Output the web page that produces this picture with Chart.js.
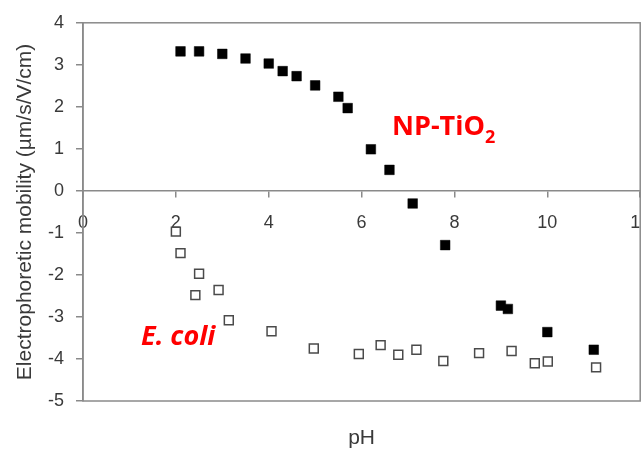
<!DOCTYPE html>
<html>
<head>
<meta charset="utf-8">
<script src="https://cdn.jsdelivr.net/npm/chart.js@4"></script>
<style>
  html, body { margin: 0; padding: 0; background: #fff; overflow: hidden; }
  #wrap { width: 641px; height: 451px; overflow: hidden; }
</style>
</head>
<body>
<div id="wrap"><canvas id="myChart" width="648" height="451"></canvas></div>
<script>
// NP-TiO2 (filled squares)
const tioPH = [2.1, 2.5, 3.0, 3.5, 4.0, 4.3, 4.6, 5.0, 5.5, 5.7, 6.2, 6.6, 7.1, 7.8, 9.0, 9.15, 10.0, 11.0];
const tioMob = [3.32, 3.32, 3.26, 3.15, 3.03, 2.85, 2.73, 2.51, 2.24, 1.97, 0.99, 0.5, -0.3, -1.29, -2.73, -2.81, -3.36, -3.78];

// E. coli (open squares)
const ecoliPH = [2.0, 2.1, 2.5, 2.42, 2.92, 3.14, 4.06, 4.97, 5.94, 6.41, 6.79, 7.18, 7.76, 8.53, 9.23, 9.73, 10.01, 11.05];
const ecoliMob = [-0.97, -1.48, -1.97, -2.48, -2.36, -3.08, -3.34, -3.75, -3.88, -3.67, -3.9, -3.78, -4.05, -3.86, -3.81, -4.1, -4.06, -4.2];

const xTicks = [0, 2, 4, 6, 8, 10, 12];
const yTicks = [-5, -4, -3, -2, -1, 0, 1, 2, 3, 4];

const toPoints = (xs, ys) => xs.map((x, i) => ({x: x, y: ys[i]}));

const axisGray = '#8a8a8a';
const textGray = '#3a3a3a';

// frame round the plot and the two red labels
const framePlugin = {
    id: 'frame',
    beforeDatasetsDraw(chart) {
        const {ctx, chartArea} = chart;
        ctx.save();
        ctx.strokeStyle = axisGray;
        ctx.lineWidth = 1.5;
        ctx.strokeRect(chartArea.left, chartArea.top, chartArea.right - chartArea.left, chartArea.bottom - chartArea.top);
        ctx.restore();
    },
    afterDraw(chart) {
        const ctx = chart.ctx;
        ctx.save();
        ctx.fillStyle = '#ff0000';
        ctx.textBaseline = 'alphabetic';
        ctx.textAlign = 'left';
        ctx.font = 'bold 27px "Open Sans"';
        ctx.fillText('NP-TiO', 392, 135);
        let w = ctx.measureText('NP-TiO').width;
        ctx.font = 'bold 18px "Open Sans"';
        ctx.fillText('2', 392 + w, 143);
        ctx.font = 'italic bold 27px "Open Sans"';
        ctx.fillText('E. coli', 141, 345);
        ctx.restore();
    }
};

let ctx = document.getElementById('myChart').getContext('2d');
window.myChart = new Chart(ctx, {
    type: 'scatter',
    data: {
        datasets: [{
            label: 'NP-TiO2',
            data: toPoints(tioPH, tioMob),
            pointStyle: 'rect',
            pointRadius: 6.8,
            backgroundColor: '#000',
            borderColor: '#000',
            borderWidth: 0.5,
        }, {
            label: 'E. coli',
            data: toPoints(ecoliPH, ecoliMob),
            pointStyle: 'rect',
            pointRadius: 6.3,
            backgroundColor: '#fff',
            borderColor: '#4a4a4a',
            borderWidth: 1.5,
        }]
    },
    options: {
        responsive: false,
        animation: false,
        events: [],
        layout: {
            padding: {left: 0, right: 2, top: 18, bottom: 0}
        },
        scales: {
            x: {
                type: 'linear',
                position: 'bottom',
                min: 0,
                max: 12,
                ticks: {display: false},
                grid: {display: false},
                border: {display: false},
                title: {
                    display: true,
                    text: 'pH',
                    color: textGray,
                    font: {family: 'Liberation Sans', size: 21},
                    padding: {top: 0, bottom: 0}
                },
                afterFit: (scale) => { scale.height = 50; }
            },
            x0: {
                type: 'linear',
                position: {y: 0},
                min: 0,
                max: 12,
                afterBuildTicks: (scale) => { scale.ticks = xTicks.map(v => ({value: v})); },
                ticks: {
                    color: textGray,
                    font: {family: 'Liberation Sans', size: 18},
                    padding: 15,
                    maxRotation: 0,
                    autoSkip: false
                },
                grid: {drawOnChartArea: false, drawTicks: true, tickLength: 6, color: axisGray, lineWidth: 1.5},
                border: {display: true, color: axisGray, width: 1.5},
                afterFit: (scale) => { scale.paddingLeft = 0; scale.paddingRight = 0; }
            },
            y: {
                type: 'linear',
                position: 'left',
                min: -5,
                max: 4,
                afterBuildTicks: (scale) => { scale.ticks = yTicks.map(v => ({value: v})); },
                ticks: {
                    color: textGray,
                    font: {family: 'Liberation Sans', size: 18},
                    padding: 12,
                    autoSkip: false
                },
                grid: {drawOnChartArea: false, drawTicks: true, tickLength: 7, color: axisGray, lineWidth: 1.5},
                border: {display: true, color: axisGray, width: 1.5},
                title: {
                    display: true,
                    text: 'Electrophoretic mobility (µm/s/V/cm)',
                    color: textGray,
                    font: {family: 'Liberation Sans', size: 21},
                    padding: {top: 13, bottom: 0}
                },
                afterFit: (scale) => { scale.width = 83; }
            }
        },
        plugins: {
            legend: {display: false},
            tooltip: {enabled: false}
        }
    },
    plugins: [framePlugin]
});
</script>
</body>
</html>
